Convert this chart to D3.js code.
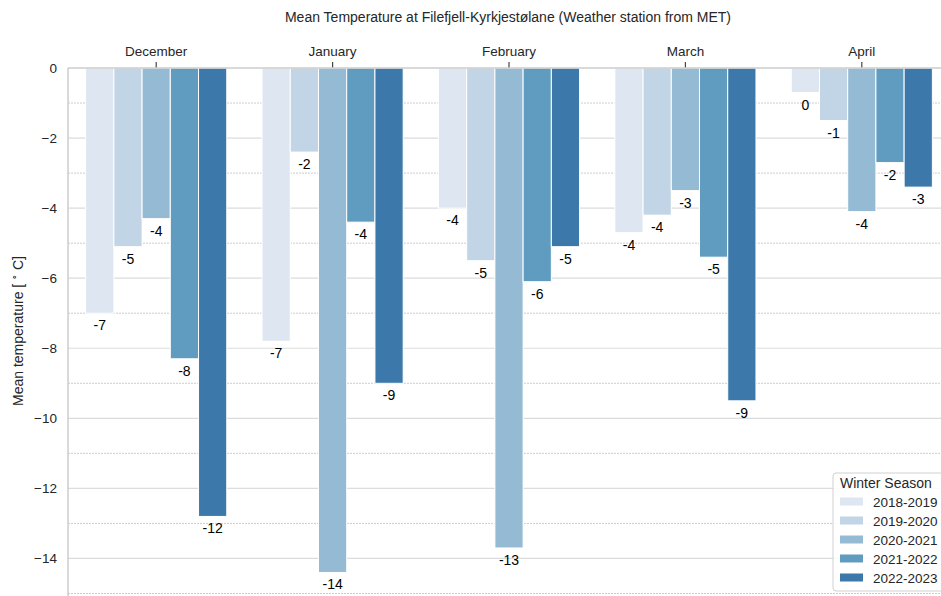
<!DOCTYPE html>
<html><head><meta charset="utf-8">
<script src="https://cdn.jsdelivr.net/npm/d3@7/dist/d3.min.js"></script>
<style>body{margin:0;background:#fff;} svg{display:block;font-family:"Liberation Sans",Arial,sans-serif;}</style>
</head><body><svg id="chart" width="941" height="596"></svg>
<script>
const months = ["December","January","February","March","April"];
const seasons = ["2018-2019","2019-2020","2020-2021","2021-2022","2022-2023"];
const v2018 = [-7.0, -7.8, -4.0, -4.7, -0.7];
const v2019 = [-5.1, -2.4, -5.5, -4.2, -1.5];
const v2020 = [-4.3, -14.4, -13.7, -3.5, -4.1];
const v2021 = [-8.3, -4.4, -6.1, -5.4, -2.7];
const v2022 = [-12.8, -9.0, -5.1, -9.5, -3.4];
const yMajorTicks = [0, -2, -4, -6, -8, -10, -12, -14];
const yMinorTicks = [-1, -3, -5, -7, -9, -11, -13, -15];
const colors = ["#dee7f1", "#c1d5e6", "#95bbd4", "#609bc0", "#3c79aa"];

const series = [v2018, v2019, v2020, v2021, v2022];
const data = [];
months.forEach((m, i) => seasons.forEach((s, j) => data.push({month: m, season: s, value: series[j][i]})));

const FONT = "Liberation Sans, Arial, sans-serif";
const svg = d3.select("#chart");
const pL = 68, pR = 950, pT = 68, pB = 593.5;
const x = d3.scaleBand().domain(months).range([pL, pR]).paddingInner(0).paddingOuter(0);
const xs = d3.scaleBand().domain(seasons).range([0, x.bandwidth() * 0.8]);
const y = d3.scaleLinear().domain([0, -15]).range([pT, pB]);

// grid
svg.append("g").selectAll("line").data(yMinorTicks).join("line")
  .attr("x1", pL).attr("x2", 941).attr("y1", d => y(d)).attr("y2", d => y(d))
  .attr("stroke", "#b8b8b8").attr("stroke-width", 0.7).attr("stroke-dasharray", "2,1");
svg.append("g").selectAll("line").data(yMajorTicks.filter(d => d !== 0)).join("line")
  .attr("x1", pL).attr("x2", 941).attr("y1", d => y(d)).attr("y2", d => y(d))
  .attr("stroke", "#dcdcdc").attr("stroke-width", 1.2);

// bars
svg.append("g").selectAll("rect").data(data).join("rect")
  .attr("x", d => x(d.month) + x.bandwidth() * 0.1 + xs(d.season))
  .attr("width", xs.bandwidth())
  .attr("y", y(0))
  .attr("height", d => y(d.value) - y(0))
  .attr("fill", d => colors[seasons.indexOf(d.season)])
  .attr("stroke", "#ffffff").attr("stroke-width", 1);

// value labels
svg.append("g").selectAll("text").data(data).join("text")
  .attr("x", d => x(d.month) + x.bandwidth() * 0.1 + xs(d.season) + xs.bandwidth() / 2)
  .attr("y", d => y(d.value) + 17)
  .attr("text-anchor", "middle").attr("font-size", 14).attr("fill", "#000")
  .text(d => String(Math.trunc(d.value)));

// axes
const yAxis = d3.axisLeft(y).tickValues(yMajorTicks).tickSize(0).tickPadding(11)
  .tickFormat(d => d === 0 ? "0" : "\u2212" + Math.abs(d));
const gy = svg.append("g").attr("transform", `translate(${pL},0)`).call(yAxis);
gy.select(".domain").remove();
gy.selectAll("text").attr("font-size", 13.5).attr("fill", "#262626").attr("font-family", FONT);

const xAxis = d3.axisTop(x).tickSize(6).tickPadding(6);
const gx = svg.append("g").attr("transform", `translate(0,${pT})`).call(xAxis);
gx.select(".domain").remove();
gx.selectAll("line").attr("stroke", "#444").attr("stroke-width", 1.2);
gx.selectAll("text").attr("font-size", 13.5).attr("fill", "#262626").attr("font-family", FONT);

svg.append("line").attr("x1", pL).attr("x2", 941).attr("y1", pT).attr("y2", pT).attr("stroke", "#cccccc").attr("stroke-width", 1.5);
svg.append("line").attr("x1", pL).attr("x2", pL).attr("y1", pT).attr("y2", 596).attr("stroke", "#cccccc").attr("stroke-width", 1.5);

// title
svg.append("text").attr("x", 508).attr("y", 22).attr("text-anchor", "middle")
  .attr("font-size", 14).attr("fill", "#262626")
  .text("Mean Temperature at Filefjell-Kyrkjestølane (Weather station from MET)");

// y label
const yl = svg.append("text").attr("transform", "translate(23,331) rotate(-90)").attr("text-anchor", "middle")
  .attr("font-size", 14).attr("fill", "#262626");
yl.append("tspan").text("Mean temperature [ ");
yl.append("tspan").attr("font-size", 9).attr("dy", -5).text("\u2218");
yl.append("tspan").attr("dy", 5).text(" C]");

// legend
const lg = svg.append("g").attr("transform", "translate(833,473)");
lg.append("rect").attr("x", 0).attr("y", 0).attr("width", 112).attr("height", 118).attr("rx", 3)
  .attr("fill", "#fff").attr("fill-opacity", 0.85).attr("stroke", "#d0d0d0");
lg.append("text").attr("x", 7).attr("y", 15).attr("font-size", 14).attr("fill", "#262626").text("Winter Season");
seasons.forEach((s, i) => {
  const yy = 29 + i * 19;
  lg.append("rect").attr("x", 7).attr("y", yy - 4.5).attr("width", 23).attr("height", 8).attr("fill", colors[i]);
  lg.append("text").attr("x", 40).attr("y", yy + 5).attr("font-size", 13.5).attr("fill", "#262626").text(s);
});
</script></body></html>
